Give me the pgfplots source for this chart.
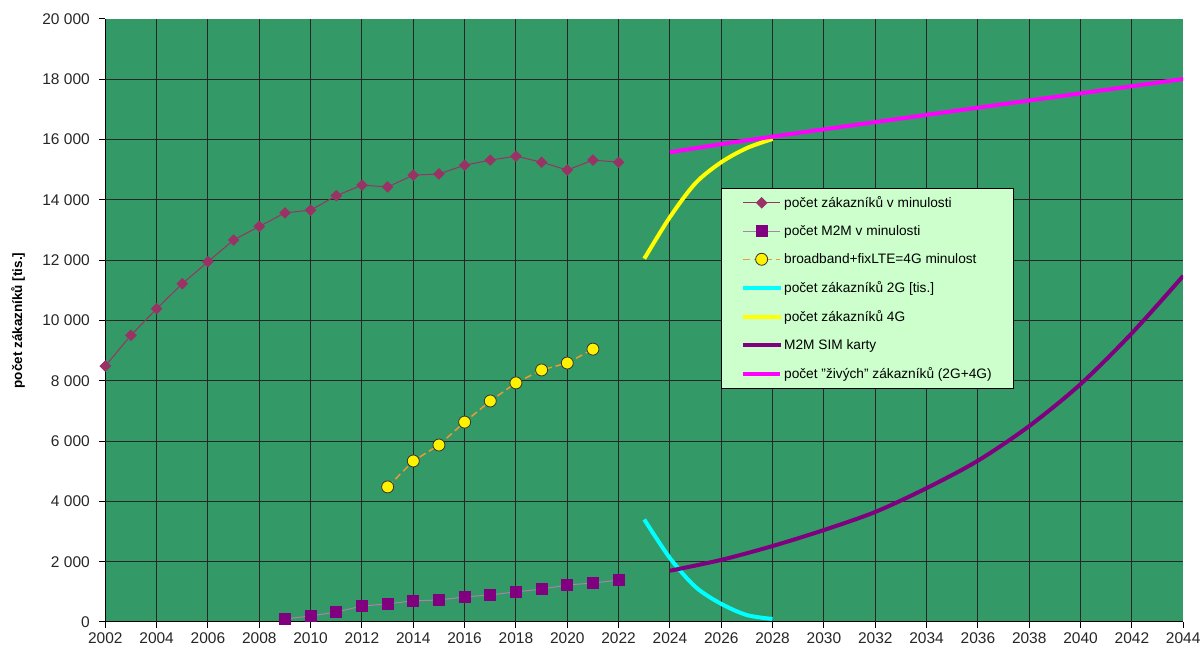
\documentclass[border=0pt]{standalone}
\usepackage{pgfplots}
\pgfplotsset{compat=1.18}
\usepackage{fontspec}
\setmainfont{Liberation Sans}

\definecolor{plotbg}{RGB}{51,153,102}
\definecolor{legbg}{RGB}{204,255,204}
\definecolor{plum}{RGB}{153,51,102}
\definecolor{mmpurple}{RGB}{128,0,128}
\definecolor{mmline}{RGB}{170,130,170}
\definecolor{bbline}{RGB}{235,155,50}
\definecolor{line2g}{RGB}{0,255,255}
\definecolor{line4g}{RGB}{255,255,0}
\definecolor{linelive}{RGB}{255,0,255}

\begin{document}
\begin{tikzpicture}
\begin{axis}[
  at={(0,0)}, anchor=south west,
  scale only axis, width=1078pt, height=603pt,
  xmin=2002, xmax=2044, ymin=0, ymax=20000,
  axis x line*=bottom, axis y line*=left,
  axis line style={-, black, line width=1pt},
  axis background/.style={fill=plotbg},
  xtick={2002,2004,...,2044},
  ytick={0,2000,...,20000},
  scaled y ticks=false,
  extra x ticks={2004,2006,...,2042},
  extra y ticks={2000,4000,...,18000},
  extra x tick labels={}, extra y tick labels={},
  extra tick style={grid=major, major tick length=0pt},
  major grid style={black!85, line width=1pt},
  tick align=outside, major tick length=6pt,
  tick style={black, line width=1pt},
  /pgf/number format/assume math mode=true,
  x tick label style={/pgf/number format/1000 sep={}, font=\fontsize{15.5}{18}\selectfont, text=black!85, yshift=-1pt},
  y tick label style={/pgf/number format/1000 sep={\ }, font=\fontsize{15.5}{18}\selectfont, text=black!85, xshift=-6pt},
  ylabel={počet zákazníků [tis.]},
  every axis y label/.style={at={(axis description cs:-0.081,0.5)}, rotate=90, anchor=center, font=\bfseries\fontsize{13.5}{16}\selectfont},
  legend style={at={(axis cs:2025.98,14390)}, anchor=north west, fill=legbg, draw=black, line width=0.8pt,
    font=\fontsize{13.7}{16}\selectfont, row sep=12.5pt, inner xsep=20pt, inner ysep=6pt,
    nodes={inner sep=2pt, text depth=0.15em}},
  legend cell align=left,
  legend image code/.code={\draw[mark repeat=2,mark phase=2,#1] plot coordinates {(0pt,0pt)(18.5pt,0pt)(37pt,0pt)};},
]

% past customers
\addplot[plum, line width=1pt, mark=square*, mark size=3.6pt, mark options={rotate=45, fill=plum, draw=plum}]
coordinates {
(2002,8490)(2003,9510)(2004,10390)(2005,11220)(2006,11950)(2007,12670)
(2008,13120)(2009,13570)(2010,13660)(2011,14140)(2012,14490)(2013,14430)
(2014,14820)(2015,14860)(2016,15150)(2017,15320)(2018,15450)(2019,15250)
(2020,14990)(2021,15320)(2022,15250)
};
\addlegendentry{počet zákazníků v minulosti}

% past M2M
\addplot[mmline, line width=1pt, mark=square*, mark size=5.5pt, mark options={fill=mmpurple, draw=mmpurple}]
coordinates {
(2009,100)(2010,200)(2011,330)(2012,530)(2013,600)(2014,700)(2015,730)
(2016,830)(2017,900)(2018,1000)(2019,1090)(2020,1230)(2021,1290)(2022,1390)
};
\addlegendentry{počet M2M v minulosti}

% broadband + fixed LTE
\addplot[bbline, line width=1.5pt, dash pattern=on 7pt off 4pt, mark=*, mark size=6pt, mark options={solid, fill=yellow, draw=black!80, line width=0.8pt}]
coordinates {
(2013,4480)(2014,5340)(2015,5870)(2016,6630)(2017,7330)(2018,7930)
(2019,8360)(2020,8590)(2021,9050)
};
\addlegendentry{broadband+fixLTE=4G minulost}

% 2G forecast
\addplot[line2g, line width=4pt, smooth]
coordinates {(2023,3400)(2024,2120)(2025,1160)(2026,600)(2027,230)(2028,100)};
\addlegendentry{počet zákazníků 2G [tis.]}

% 4G forecast
\addplot[line4g, line width=4pt, smooth]
coordinates {(2023,12050)(2024,13430)(2025,14560)(2026,15250)(2027,15720)(2028,16020)};
\addlegendentry{počet zákazníků 4G}

% M2M SIM forecast
\addplot[mmpurple, line width=4pt, smooth]
coordinates {
(2024,1700)(2026,2060)(2028,2520)(2030,3050)(2032,3650)(2034,4440)
(2036,5350)(2038,6500)(2040,7890)(2042,9580)(2044,11480)
};
\addlegendentry{M2M SIM karty}

% live customers (2G+4G)
\addplot[linelive, line width=4pt]
coordinates {(2024,15580)(2026,15850)(2028,16100)(2034,16820)(2044,18010)};
\addlegendentry{počet "živých" zákazníků (2G+4G)}

\end{axis}
\pgfresetboundingbox
\path[use as bounding box] (-105.3pt,-28pt) rectangle (1097.7pt,622pt);
\end{tikzpicture}
\end{document}
